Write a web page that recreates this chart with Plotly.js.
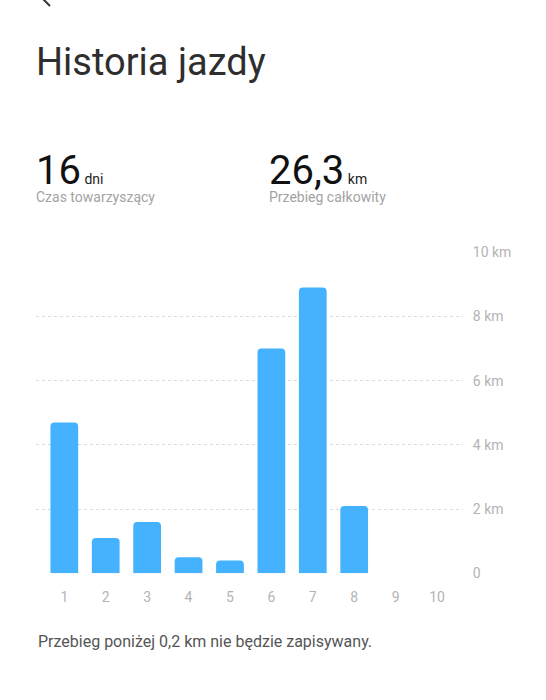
<!DOCTYPE html>
<html>
<head>
<meta charset="utf-8">
<script src="https://cdn.plot.ly/plotly-3.0.1.min.js"></script>
<style>
  html, body { margin: 0; padding: 0; background: #fff; }
  #plot { width: 546px; height: 700px; }
</style>
</head>
<body>
<div id="plot"></div>
<script>
// days and distance per day (km)
var days = [1, 2, 3, 4, 5, 6, 7, 8, 9, 10];
var distances = [4.7, 1.1, 1.6, 0.5, 0.4, 7.0, 8.9, 2.1, null, null];

var yTickVals = [0, 2, 4, 6, 8, 10];
var yTickText = ['0', '2 km', '4 km', '6 km', '8 km', '10 km'];

var W = 546, H = 700;
function px(x) { return x / W; }
function py(y) { return 1 - y / H; }

var trace = {
  x: days,
  y: distances,
  type: 'bar',
  width: 0.67,
  marker: { color: '#44b2ff', cornerradius: 4 },
  hoverinfo: 'none'
};

var grey = '#b4b4b4';
var font = 'Roboto, "Noto Sans", sans-serif';

// big number + unit on first line, caption on second
function stat(value, unit, caption) {
  return '<span style="font-size:40px;color:#111">' + value + '</span>' +
    '<span style="color:#222"> ' + unit + '</span><br>' + caption;
}

var layout = {
  width: W,
  height: H,
  margin: { l: 0, r: 0, t: 0, b: 0 },
  paper_bgcolor: '#fff',
  plot_bgcolor: '#fff',
  showlegend: false,
  font: { family: font },
  xaxis: {
    domain: [px(36), px(463)],
    range: [0.316, 10.628],
    tickvals: days,
    ticks: 'outside',
    ticklen: 11,
    tickcolor: 'rgba(0,0,0,0)',
    tickfont: { size: 14, color: grey },
    showgrid: false,
    zeroline: false,
    showline: false,
    fixedrange: true
  },
  yaxis: {
    domain: [py(573.3), py(252.3)],
    range: [0, 10],
    side: 'right',
    tickvals: yTickVals,
    ticktext: yTickText,
    ticks: 'outside',
    ticklen: 6,
    tickcolor: 'rgba(0,0,0,0)',
    tickfont: { size: 14, color: grey },
    showgrid: true,
    gridcolor: '#dcdcdc',
    griddash: 'dot',
    gridwidth: 1,
    zeroline: false,
    showline: false,
    fixedrange: true
  },
  shapes: [
    { type: 'line', xref: 'paper', yref: 'paper',
      x0: px(41), y0: py(-3), x1: px(50), y1: py(6),
      line: { color: '#333', width: 2 } }
  ],
  annotations: [
    { text: 'Historia jazdy', x: px(34), y: py(62), xref: 'paper', yref: 'paper',
      xanchor: 'left', yanchor: 'middle', showarrow: false,
      font: { size: 38, color: '#2e2e2e', family: font } },
    { text: stat('16', 'dni', 'Czas towarzyszący'), x: px(34), y: py(207),
      xref: 'paper', yref: 'paper', xanchor: 'left', yanchor: 'bottom',
      align: 'left', showarrow: false,
      font: { size: 14, color: '#a3a3a3', family: font } },
    { text: stat('26,3', 'km', 'Przebieg całkowity'), x: px(267), y: py(207),
      xref: 'paper', yref: 'paper', xanchor: 'left', yanchor: 'bottom',
      align: 'left', showarrow: false,
      font: { size: 14, color: '#a3a3a3', family: font } },
    { text: 'Przebieg poniżej 0,2 km nie będzie zapisywany.', x: px(36), y: py(641),
      xref: 'paper', yref: 'paper', xanchor: 'left', yanchor: 'middle', showarrow: false,
      font: { size: 16, color: '#555', family: font } }
  ]
};

Plotly.newPlot('plot', [trace], layout, { displayModeBar: false, staticPlot: true });
</script>
</body>
</html>
